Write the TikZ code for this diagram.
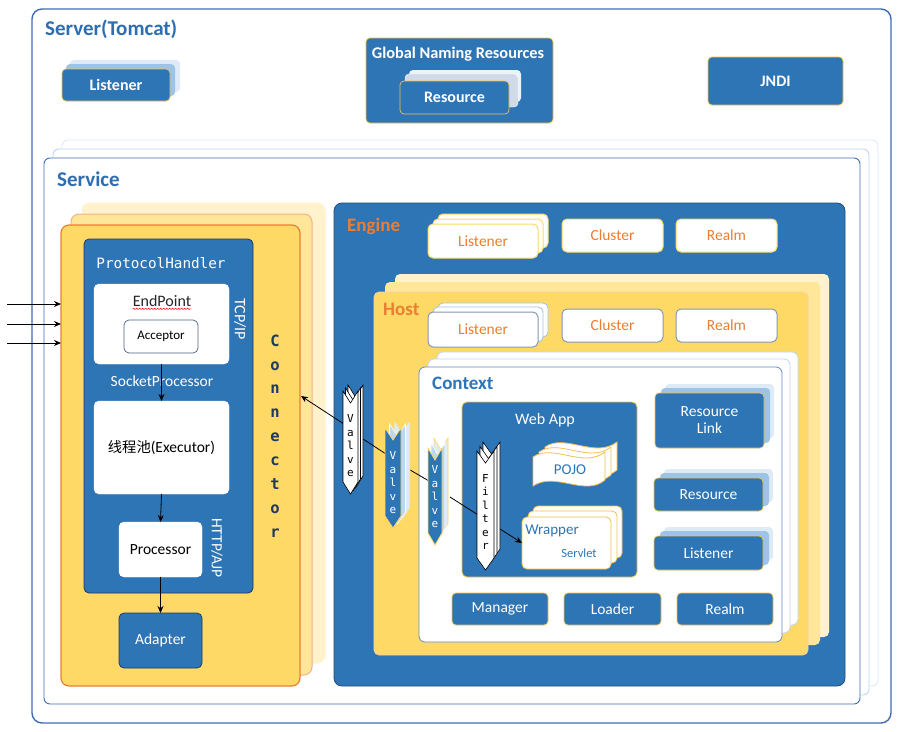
\documentclass[tikz,border=0pt]{standalone}
\usepackage{fontspec}
\setmainfont{Carlito}
\setmonofont{DejaVu Sans Mono}
\newfontfamily\cjk{Noto Sans CJK SC}
\usetikzlibrary{arrows.meta,decorations.pathmorphing}
\definecolor{tblue}{HTML}{2E75B6}
\definecolor{tdark}{HTML}{1F4E79}
\definecolor{tgoldb}{HTML}{F2C14E}
\definecolor{tyel}{HTML}{FFD966}
\definecolor{tyel2}{HTML}{FFE699}
\definecolor{tyel3}{HTML}{FFF2CC}
\definecolor{torange}{HTML}{ED7D31}
\definecolor{torange2}{HTML}{F4B183}
\definecolor{tlb}{HTML}{9DC3E6}
\definecolor{tlb2}{HTML}{BDD7EE}
\definecolor{tlb3}{HTML}{DEEBF7}
\definecolor{tgray}{HTML}{8497B0}
\definecolor{tnavy}{HTML}{203864}
\definecolor{tline}{HTML}{3F6DB3}
\definecolor{ttitle}{HTML}{2E6DB0}
\definecolor{tgrayb}{HTML}{D0DAE8}
\newcommand\mybox[7]{\node[#6,minimum width={(#4-#2)*1pt},minimum height={(#5-#3)*1pt}] (#1) at ({(#2+#4)/2},{(#3+#5)/2}) {#7};}
\newcommand\chev[6]{\path[#6] (#1,#3) -- ({(#1+#2)/2},{#3+#5}) -- (#2,#3) -- (#2,{#4-#5}) -- ({(#1+#2)/2},#4) -- (#1,{#4-#5}) -- cycle;}
\newcommand\pojo[3]{\path[#3] ({533+#1},{457+#2}) .. controls ({553+#1},{443+#2}) and ({583+#1},{469+#2}) .. ({605+#1},{452+#2}) -- ({605+#1},{480+#2}) .. controls ({585+#1},{497+#2}) and ({555+#1},{471+#2}) .. ({533+#1},{486+#2}) -- cycle;}
\tikzset{
  base/.style={inner sep=0pt,outer sep=0pt,align=center},
  srv/.style={base,draw=tline,line width=1.4pt,rounded corners=10pt},
  svcfront/.style={base,draw=tline,line width=0.9pt,fill=white,rounded corners=6pt},
  svcback/.style={base,draw=tlb2,line width=0.9pt,fill=white,rounded corners=6pt},
  svcback2/.style={base,draw=tlb3,line width=0.9pt,fill=white,rounded corners=6pt},
  ttl/.style={inner sep=0pt,text=ttitle,font=\bfseries\fontsize{21}{23}\selectfont},
  otl/.style={inner sep=0pt,text=torange,font=\bfseries\fontsize{19}{21}\selectfont},
  blubox/.style={base,draw=tgoldb,fill=tblue,line width=0.7pt,rounded corners=4pt,text=white,font=\bfseries\fontsize{16}{18}\selectfont},
  blubox2/.style={base,draw=tgoldb,fill=tblue,line width=0.7pt,rounded corners=4pt,text=white,font=\fontsize{15.5}{17}\selectfont},
  lbback/.style={base,fill=tlb,rounded corners=4pt},
  lbback2/.style={base,fill=tlb3,rounded corners=4pt},
  grayback/.style={base,fill=tgrayb,draw=white,rounded corners=4pt},
  grayback2/.style={base,fill=tlb3!60,rounded corners=4pt},
  confront/.style={base,fill=tyel,draw=torange,line width=1.2pt,rounded corners=8pt},
  conback/.style={base,fill=tyel2,draw=torange2,line width=1pt,rounded corners=8pt},
  conback2/.style={base,fill=tyel3,draw=tyel3,line width=1pt,rounded corners=8pt},
  phbox/.style={base,fill=tblue,draw=tnavy,line width=0.8pt,rounded corners=5pt},
  wbox/.style={base,fill=white,draw=white,rounded corners=5pt,font=\fontsize{15.5}{17}\selectfont},
  accbox/.style={base,fill=white,draw=tnavy!80,line width=0.7pt,rounded corners=5pt,font=\fontsize{13}{15}\selectfont},
  adpbox/.style={base,fill=tblue,draw=tnavy,line width=0.8pt,rounded corners=5pt,text=white,font=\fontsize{15.5}{17}\selectfont},
  wlbl/.style={inner sep=0pt,text=white,font=\fontsize{15.5}{17}\selectfont},
  arr/.style={-{Stealth[length=7pt,width=6pt]},line width=0.8pt,black},
  ln/.style={line width=0.8pt,black},
  engbox/.style={base,fill=tblue,draw=tdark,line width=0.8pt,rounded corners=8pt},
  ewbox/.style={base,fill=white,draw=tyel,line width=1pt,rounded corners=5pt,text=torange,font=\fontsize{15.5}{17}\selectfont},
  hwbox/.style={base,fill=white,draw=tgray,line width=1pt,rounded corners=5pt,text=torange,font=\fontsize{15.5}{17}\selectfont},
  hwback/.style={base,fill=white,draw=tlb,line width=0.8pt,rounded corners=5pt},
  hfront/.style={base,fill=tyel,draw=torange2!60,line width=0.6pt,rounded corners=5pt},
  hback/.style={base,fill=tyel2,rounded corners=5pt},
  hback2/.style={base,fill=tyel3,rounded corners=5pt},
  cfront/.style={base,fill=white,draw=tline!80,line width=0.8pt,rounded corners=6pt},
  cback/.style={base,fill=white,draw=tlb2,line width=0.8pt,rounded corners=6pt},
  webbox/.style={base,fill=tblue,draw=tgoldb,line width=0.8pt,rounded corners=5pt},
  wrbox/.style={base,fill=white,draw=tgoldb,line width=0.8pt,rounded corners=5pt},
  pj/.style={fill=white,draw=tgoldb,line width=0.8pt},
  btxt/.style={inner sep=0pt,text=tblue,font=\fontsize{15}{17}\selectfont},
  vwhite/.style={fill=white,draw=black,line width=0.6pt},
  vblue/.style={fill=tblue,draw=tyel,line width=0.8pt},
  vbback/.style={fill=tlb2,draw=white,line width=0.6pt},
  vbback2/.style={fill=tlb3,draw=tyel,line width=0.6pt},
  vtxt/.style={inner sep=0pt,align=center,font=\ttfamily\fontsize{11}{13.5}\selectfont},
}
\begin{document}
\begin{tikzpicture}[x=1pt,y=-1pt]
\useasboundingbox (0,0) rectangle (897,731);
\fill[white] (0,0) rectangle (897,731);
% Server
\mybox{server}{32}{9}{891}{723}{srv}{}
\node[ttl,anchor=west] (servert) at (45,29) {Server(Tomcat)};
% top listener
\mybox{lis0c}{70}{60}{180}{92}{lbback2}{}
\mybox{lis0b}{66}{64}{175}{96}{lbback}{}
\mybox{lis0}{62}{69}{170}{101}{blubox}{Listener}
% Global Naming Resources
\mybox{gnr}{366}{38}{553}{123}{blubox}{}
\node[inner sep=0pt,text=white,font=\bfseries\fontsize{16.3}{18}\selectfont] (gnrt) at (458,54) {Global Naming Resources};
\mybox{resc}{409}{70}{521}{102}{grayback2}{}
\mybox{resb}{405}{74}{518}{107}{grayback}{}
\mybox{res}{400}{81}{509}{114}{blubox}{Resource}
% JNDI
\mybox{jndi}{708}{57}{843}{105}{blubox}{JNDI}
% Service
\mybox{svc2}{62}{140}{878}{686}{svcback2}{}
\mybox{svc1}{53}{149}{869}{695}{svcback}{}
\mybox{svc}{44}{158}{860}{704}{svcfront}{}
\node[ttl,anchor=west] (svct) at (57,179) {Service};
% Connector
\mybox{con2}{82}{203}{325}{663}{conback2}{}
\mybox{con1}{71}{214}{312}{675}{conback}{}
\mybox{con}{61}{225}{300}{686}{confront}{}
\mybox{ph}{84}{239}{253}{593}{phbox}{}
\node[inner sep=0pt,text=white,font=\ttfamily\fontsize{14.3}{16}\selectfont] (pht) at (161,263) {ProtocolHandler};
\mybox{ep}{94}{284}{229}{364}{wbox}{}
\node[inner sep=0pt,font=\fontsize{16}{18}\selectfont,text=black!85] (ept) at (162,301) {EndPoint};
\draw[red,line width=0.5pt,decorate,decoration={snake,amplitude=0.7pt,segment length=3pt}] ([yshift=-2pt]ept.south west) -- ([yshift=-2pt]ept.south east);
\mybox{acc}{124}{320}{198}{353}{accbox}{Acceptor}
\node[inner sep=0pt,rotate=-90,text=white,font=\fontsize{16}{18}\selectfont] (tcp) at (240,319) {TCP/IP};
\node[wlbl] (sockp) at (162,381) {SocketProcessor};
\mybox{exe}{94}{401}{229}{494}{wbox}{{\cjk\fontsize{14.3}{16}\selectfont 线程池}(Executor)}
\mybox{proc}{119}{522}{202}{577}{wbox}{Processor}
\node[inner sep=0pt,rotate=-90,text=white,font=\fontsize{15.5}{17}\selectfont] (http) at (217,548) {HTTP/AJP};
\mybox{adp}{119}{613}{202}{668}{adpbox}{Adapter}
\draw[arr] (ep.south) -- (exe.north);
\draw[arr] (exe.south) -- (proc.north);
\draw[arr] (proc.south) -- (adp.north);
\node[inner sep=0pt,align=center,text=tnavy,font=\ttfamily\bfseries\fontsize{15.5}{23.9}\selectfont] (conlbl) at (275,436) {C\\o\\n\\n\\e\\c\\t\\o\\r};
\coordinate (in1) at (7,304);
\coordinate (in2) at (7,324);
\coordinate (in3) at (7,343);
\draw[arr] (in1) -- (in1 -| con.west);
\draw[arr] (in2) -- (in2 -| con.west);
\draw[arr] (in3) -- (in3 -| con.west);
% Engine
\mybox{eng}{334}{203}{845}{686}{engbox}{}
\node[otl,anchor=west] (engt) at (347,226) {Engine};
\mybox{elb2}{438}{214}{548}{248}{ewbox}{}
\mybox{elb1}{433}{219}{543}{253}{ewbox}{}
\mybox{el}{428}{224}{538}{258}{ewbox}{Listener}
\mybox{ecl}{562}{219}{663}{252}{ewbox}{Cluster}
\mybox{erl}{676}{219}{777}{252}{ewbox}{Realm}
% Host
\mybox{host2}{395}{274}{829}{637}{hback2}{}
\mybox{host1}{385}{282}{820}{645}{hback}{}
\mybox{host}{374}{292}{808}{655}{hfront}{}
\node[otl,anchor=west] (hostt) at (383,309) {Host};
\mybox{hlb2}{438}{303}{548}{337}{hwback}{}
\mybox{hlb1}{433}{307}{543}{342}{hwback}{}
\mybox{hl}{428}{312}{538}{347}{hwbox}{Listener}
\mybox{hcl}{562}{309}{663}{342}{hwbox}{Cluster}
\mybox{hrl}{676}{309}{777}{342}{hwbox}{Realm}
% Context
\mybox{ctx2}{437}{352}{798}{625}{cback}{}
\mybox{ctx1}{428}{359}{790}{633}{cback}{}
\mybox{ctx}{419}{367}{782}{642}{cfront}{}
\node[inner sep=0pt,anchor=west,text=tblue,font=\bfseries\fontsize{19}{21}\selectfont] (ctxt) at (432,383) {Context};
% Web App
\mybox{web}{462}{402}{637}{577}{webbox}{}
\node[wlbl,font=\fontsize{16}{18}\selectfont] (webt) at (545,420) {Web App};
\pojo{12}{-10}{pj}
\pojo{6}{-5}{pj}
\pojo{0}{0}{pj}
\node[btxt] (pojot) at (570,470) {POJO};
\mybox{wr2}{533}{506}{622}{558}{wrbox}{}
\mybox{wr1}{528}{511}{617}{563}{wrbox}{}
\mybox{wr}{522}{517}{611}{569}{wrbox}{}
\node[btxt] (wrt) at (552,531) {Wrapper};
\node[inner sep=0pt,text=tblue,font=\fontsize{12.5}{14}\selectfont] (svlt) at (579,553) {Servlet};
% right column
\mybox{rlc}{665}{384}{774}{438}{lbback2}{}
\mybox{rlb}{661}{388}{770}{443}{lbback}{}
\mybox{rl}{655}{393}{764}{448}{blubox2}{Resource\\Link}
\mybox{rsc}{664}{469}{773}{502}{lbback2}{}
\mybox{rsb}{660}{473}{769}{506}{lbback}{}
\mybox{rs}{654}{478}{763}{511}{blubox2}{Resource}
\mybox{cli3}{664}{527}{773}{560}{lbback2}{}
\mybox{clib}{660}{531}{769}{565}{lbback}{}
\mybox{cli}{654}{536}{763}{570}{blubox2}{Listener}
\mybox{mgr}{452}{593}{548}{625}{blubox2}{Manager}
\mybox{ldr}{564}{593}{661}{625}{blubox2}{Loader}
\mybox{crl}{677}{593}{773}{625}{blubox2}{Realm}
% connectors between valves
\coordinate (ctarget) at (301,396);
\coordinate (v1l) at (344,424);
\coordinate (v1r) at (363,439);
\coordinate (v2l) at (386,454);
\coordinate (v2r) at (405,467);
\coordinate (v3l) at (429,481);
\coordinate (v3r) at (450,497);
\coordinate (wrin) at (522,543);
\draw[arr] (v1l) -- (ctarget);
\draw[ln] (v1r) -- (v2l);
\draw[ln] (v2r) -- (v3l);
\draw[arr] (v3r) -- (wrin);
% Valve 1
\chev{348}{363}{385}{488}{12}{vwhite}
\chev{345.5}{360.5}{388}{491}{12}{vwhite}
\chev{343}{358}{391}{494}{12}{vwhite}
\node[vtxt] (v1t) at (350.5,446) {V\\a\\l\\v\\e};
% Valve 2
\chev{394}{410}{420}{520}{12}{vbback2}
\chev{389.5}{405.5}{424}{524}{12}{vbback}
\chev{385}{401}{428}{528}{12}{vblue}
\node[vtxt,text=white] (v2t) at (393,483) {V\\a\\l\\v\\e};
% Valve 3
\chev{434}{448}{438}{535}{12}{vbback2}
\chev{431}{445}{443}{540}{12}{vbback}
\chev{428}{442}{448}{545}{12}{vblue}
\node[vtxt,text=white] (v3t) at (435,497) {V\\a\\l\\v\\e};
% Filter
\chev{483}{500}{442}{561}{12}{vwhite}
\chev{480}{497}{446.5}{565.5}{12}{vwhite}
\chev{477}{494}{451}{570}{12}{vwhite}
\node[vtxt] (ft) at (485.5,512) {F\\i\\l\\t\\e\\r};
\end{tikzpicture}
\end{document}
